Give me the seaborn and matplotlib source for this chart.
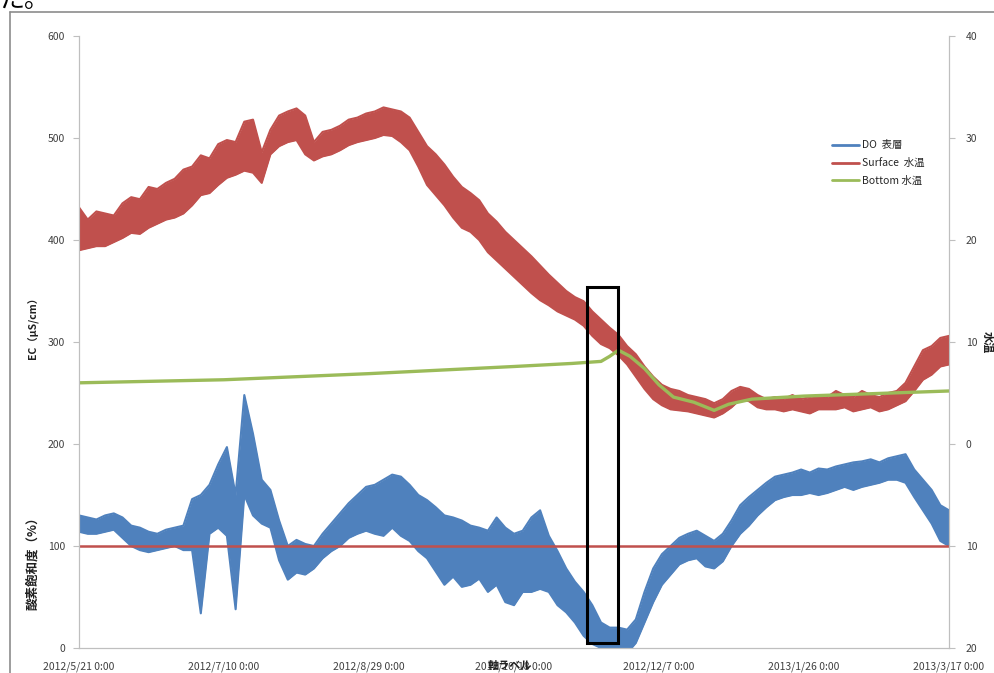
import pandas as pd
import matplotlib
matplotlib.use('Agg')
import matplotlib.pyplot as plt
import matplotlib.dates as mdates
from matplotlib.patches import Rectangle
from matplotlib.lines import Line2D
import seaborn as sns

# DATA ########################################################################
# valeurs : haut / bas de la bande (variation journalière)
# une lecture tous les 3 jours depuis 2012/5/21
start = '2012-05-21'
step_days = 3

# DO 表層 (%), axe gauche
do_hi = [130, 128, 126, 130, 132, 128, 120, 118, 114, 112,
         116, 118, 120, 146, 150, 160, 180, 197, 150, 248,
         210, 165, 155, 125, 100, 106, 102, 100, 112, 122,
         132, 142, 150, 158, 160, 165, 170, 168, 160, 150,
         145, 138, 130, 128, 125, 120, 118, 115, 128, 118,
         112, 115, 128, 135, 110, 95, 78, 65, 55, 42,
         25, 20, 20, 18, 28, 55, 78, 92, 100, 108,
         112, 115, 110, 105, 112, 125, 140, 148, 155, 162,
         168, 170, 172, 175, 172, 176, 175, 178, 180, 182,
         183, 185, 182, 186, 188, 190, 175, 165, 155, 140,
         135]
do_lo = [114, 112, 112, 114, 116, 108, 100, 96, 94, 96,
         98, 100, 96, 96, 34, 112, 118, 110, 38, 150,
         130, 122, 118, 86, 67, 74, 72, 78, 88, 95,
         100, 108, 112, 115, 112, 110, 118, 110, 105, 95,
         88, 75, 62, 70, 60, 62, 68, 55, 62, 45,
         42, 55, 55, 58, 55, 42, 35, 25, 12, 4,
         0, -3, -2, -5, 5, 25, 45, 62, 72, 82,
         86, 88, 80, 78, 85, 100, 112, 120, 130, 138,
         145, 148, 150, 150, 152, 150, 152, 155, 158, 155,
         158, 160, 162, 165, 165, 162, 148, 135, 122, 105,
         100]

# Surface 水温 (°C), axe droit
surf_hi = [23.2, 22.0, 22.8, 22.6, 22.4, 23.6, 24.2, 24.0, 25.2, 25.0,
           25.6, 26.0, 26.9, 27.2, 28.3, 28.0, 29.4, 29.8, 29.6, 31.6,
           31.8, 28.6, 30.8, 32.2, 32.6, 32.9, 32.2, 29.6, 30.6, 30.8,
           31.2, 31.8, 32.0, 32.4, 32.6, 33.0, 32.8, 32.6, 32.0, 30.6,
           29.2, 28.4, 27.4, 26.2, 25.2, 24.6, 23.9, 22.6, 21.8, 20.8,
           20.0, 19.2, 18.4, 17.5, 16.6, 15.8, 15.0, 14.4, 14.0, 13.0,
           12.2, 11.4, 10.7, 9.6, 8.8, 7.6, 6.6, 5.8, 5.4, 5.2,
           4.8, 4.6, 4.4, 4.0, 4.4, 5.2, 5.6, 5.4, 4.8, 4.4,
           4.6, 4.4, 4.8, 4.4, 4.6, 4.8, 4.6, 5.2, 4.8, 4.6,
           5.2, 4.8, 4.6, 5.0, 5.2, 6.0, 7.6, 9.2, 9.6, 10.4,
           10.6]
surf_lo = [19.0, 19.2, 19.4, 19.4, 19.8, 20.2, 20.7, 20.6, 21.2, 21.6,
           22.0, 22.2, 22.6, 23.4, 24.4, 24.6, 25.4, 26.1, 26.4, 26.8,
           26.6, 25.6, 28.4, 29.2, 29.6, 29.8, 28.4, 27.8, 28.2, 28.4,
           28.8, 29.3, 29.6, 29.8, 30.0, 30.3, 30.2, 29.6, 28.8, 27.2,
           25.4, 24.4, 23.4, 22.2, 21.2, 20.8, 20.0, 18.8, 18.0, 17.2,
           16.4, 15.6, 14.8, 14.1, 13.6, 13.0, 12.6, 12.2, 11.6, 10.6,
           9.8, 9.4, 8.7, 7.8, 6.6, 5.4, 4.4, 3.8, 3.4, 3.3,
           3.2, 3.0, 2.8, 2.6, 3.0, 3.6, 4.4, 4.2, 3.6, 3.4,
           3.4, 3.2, 3.4, 3.2, 3.0, 3.4, 3.4, 3.4, 3.6, 3.2,
           3.4, 3.6, 3.2, 3.4, 3.8, 4.2, 5.2, 6.3, 6.8, 7.6,
           7.8]

# Bottom 水温 (°C), courbe lisse -> moins de points
bottom_days = [0, 50, 100, 150, 170, 180, 183, 186, 190, 195,
               200, 205, 212, 219, 224, 232, 250, 280, 300]
temp_bottom = [6.0, 6.3, 6.9, 7.6, 7.9, 8.1, 8.6, 9.2, 8.6, 7.4,
               5.8, 4.6, 4.1, 3.3, 3.9, 4.4, 4.7, 5.0, 5.2]

saturation_ref = 100  # ligne rouge 100 %

# cadre noir
box_start, box_end = '2012-11-12', '2012-11-23'
box_low, box_high = 5, 354

x_ticks = ['2012-05-21', '2012-07-10', '2012-08-29', '2012-10-18',
           '2012-12-07', '2013-01-26', '2013-03-17']
x_ticklabels = ['2012/5/21 0:00', '2012/7/10 0:00', '2012/8/29 0:00', '2012/10/18 0:00',
                '2012/12/7 0:00', '2013/1/26 0:00', '2013/3/17 0:00']
left_ticks = [0, 100, 200, 300, 400, 500, 600]
right_ticks = [-20, -10, 0, 10, 20, 30, 40]
right_ticklabels = ['20', '10', '0', '10', '20', '30', '40']

labels = ['DO  表層', 'Surface  水温', 'Bottom 水温']
colors = ['#4f81bd', '#c0504d', '#9bbb59']

# FIGURE ######################################################################
sns.set_style('white')
plt.rcParams['font.family'] = ['Noto Sans CJK JP', 'DejaVu Sans']

dates = pd.date_range(start, periods=len(do_hi), freq=f'{step_days}D')
df = pd.DataFrame({'date': dates, 'do_hi': do_hi, 'do_lo': do_lo,
                   'surf_hi': surf_hi, 'surf_lo': surf_lo})
df_bot = pd.DataFrame({'date': pd.Timestamp(start) + pd.to_timedelta(bottom_days, unit='D'),
                       'bottom': temp_bottom})

fig = plt.figure(figsize=(9.95, 6.73), dpi=100)
ax = fig.add_axes([0.0794, 0.0371, 0.8744, 0.9094])
ax2 = ax.twinx()

# bande = fluctuation journalière (haut / bas)
ax.fill_between(df.date, df.do_lo, df.do_hi, color=colors[0], lw=0)
for col in ['do_hi', 'do_lo']:
    sns.lineplot(data=df, x='date', y=col, ax=ax, color=colors[0], lw=1.5, estimator=None)
ax.axhline(saturation_ref, color=colors[1], lw=1.8)

ax2.fill_between(df.date, df.surf_lo, df.surf_hi, color=colors[1], lw=0)
for col in ['surf_hi', 'surf_lo']:
    sns.lineplot(data=df, x='date', y=col, ax=ax2, color=colors[1], lw=1.5, estimator=None)
sns.lineplot(data=df_bot, x='date', y='bottom', ax=ax2, color=colors[2], lw=2.4, estimator=None)

b0 = mdates.date2num(pd.Timestamp(box_start))
b1 = mdates.date2num(pd.Timestamp(box_end))
ax2.add_patch(Rectangle((b0, box_low), b1 - b0, box_high - box_low,
                        transform=ax.transData, fill=False, ec='black', lw=2.2, zorder=5))

ax.set_xlim(pd.Timestamp(x_ticks[0]), pd.Timestamp(x_ticks[-1]))
ax.set_ylim(0, 600)
ax2.set_ylim(-20, 40)
ax.set_xticks(pd.to_datetime(x_ticks))
ax.set_xticklabels(x_ticklabels)
ax.set_yticks(left_ticks)
ax2.set_yticks(right_ticks)
ax2.set_yticklabels(right_ticklabels)
ax.set_xlabel('')
ax.set_ylabel('')
ax2.set_ylabel('')

for a in (ax, ax2):
    for s in a.spines.values():
        s.set_color('#bfbfbf')
    a.spines['top'].set_visible(False)
    a.tick_params(length=4, width=0.8, color='#bfbfbf', labelcolor='#404040', labelsize=7.5)
ax.tick_params(axis='x', pad=6)
ax.tick_params(axis='y', pad=6)
ax2.tick_params(axis='y', pad=8)

handles = [Line2D([], [], color=c, lw=2) for c in colors]
leg = ax2.legend(handles, labels, loc='upper left', bbox_to_anchor=(0.855, 0.845),
                 frameon=False, fontsize=7.5, handlelength=2.6, labelspacing=0.75,
                 handletextpad=0.3)
leg.set_zorder(10)

# titres d'axes superposés (comme dans l'original)
fig.text(0.033, 1 - 325 / 673, 'EC（μS/cm）', rotation=90, ha='center', va='center',
         fontsize=7.5, fontweight='bold', color='#202020')
fig.text(0.033, 1 - 560 / 673, '酸素飽和度（%）', rotation=90, ha='center', va='center',
         fontsize=9, fontweight='bold', color='#202020')
fig.text(0.992, 1 - 342 / 673, '水温', rotation=270, ha='center', va='center',
         fontsize=8, fontweight='bold', color='#202020')
fig.text(0.512, 1 - 665 / 673, '軸ラベル', ha='center', va='center',
         fontsize=8, fontweight='bold', color='#202020')
fig.text(0.0, 1.0, 'た。', ha='left', va='center', fontsize=18, color='black')

# bord du cadre du graphique
fig.add_artist(Line2D([0.010, 0.010], [0, 0.982], color='#8c8c8c', lw=1.2))
fig.add_artist(Line2D([0.010, 1.0], [0.982, 0.982], color='#8c8c8c', lw=1.2))

plt.savefig('out.png', dpi=100)
